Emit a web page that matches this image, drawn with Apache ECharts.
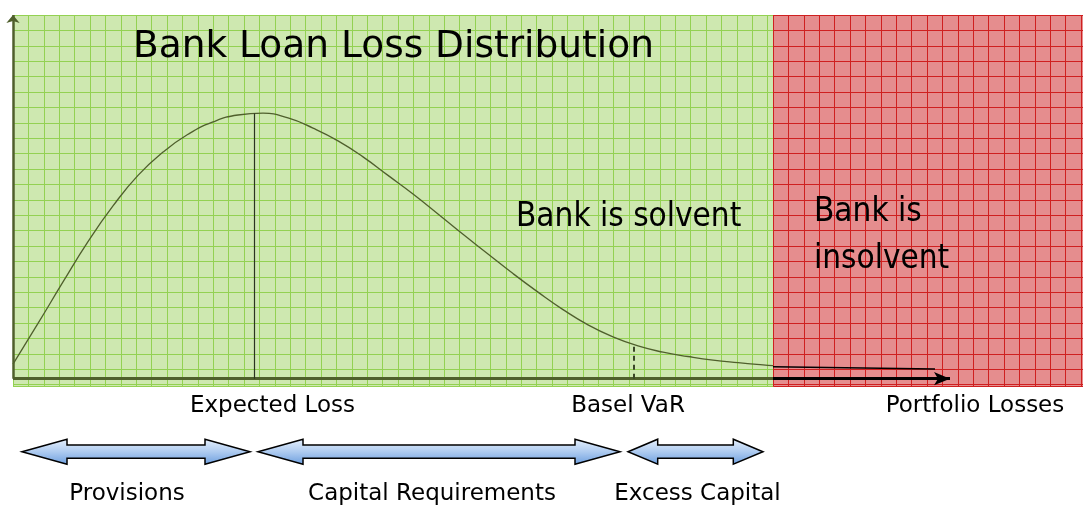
<!DOCTYPE html>
<html><head><meta charset="utf-8">
<script src="https://cdn.jsdelivr.net/npm/echarts@6/dist/echarts.min.js"></script>
<style>html,body{margin:0;padding:0;background:#fff}#c{width:1083px;height:512px}</style>
</head><body><div id="c"></div>
<script>
// ---- data (loss in arbitrary units, density in % of axis height) ----
const lossX   = [0, 2.5, 5, 7.5, 10, 12.5, 15, 17.5, 20, 22.5, 25, 27.5, 30, 32.5, 35, 37.5, 40, 42.5, 45, 47.5, 50, 52.5, 55, 57.5, 60, 62.5, 65, 67.5, 70, 72.5, 75, 76];
const density = [4.0, 15.2, 26.6, 37.7, 47.5, 55.9, 62.3, 67.2, 70.6, 72.5, 73.0, 71.7, 68.9, 65.4, 61.0, 55.9, 50.8, 45.3, 39.7, 34.3, 28.9, 23.8, 19.0, 14.8, 11.5, 9.0, 7.3, 6.1, 5.1, 4.4, 3.8, 3.6];
const tailX = [76.0, 92.2];
const tailY = [3.3, 2.7];
const expectedLoss = 24.1, expectedLossDensity = 72.9;
const baselVaR = 62.1, baselVaRDensity = 9.3;
const insolvencyPoint = 76.0;
const lossAxisEnd = 93.7;
const densityAxisTop = 100;
const bandNames = ['Provisions', 'Capital Requirements', 'Excess Capital'];
const bandFrom  = [0.9, 24.5, 61.5];
const bandTo    = [23.7, 60.7, 75.0];

const FONT = '"DejaVu Sans", Verdana, sans-serif';
const FONT_C = '"DejaVu Sans Condensed", "DejaVu Sans", sans-serif';
const OLIVE = '#4f5f2c';
const cellPx = 15.4;
const plotTop = 15, plotBottom = 386.7, splitX = 773, W = 1083;

const chart = echarts.init(document.getElementById('c'), null, { renderer: 'canvas' });

const hiddenAxis = { axisLine: { show: false }, axisTick: { show: false }, axisLabel: { show: false }, minorSplitLine: { show: false } };
function gridAxis(gridIndex, len, color, inverse) {
  return Object.assign({ gridIndex: gridIndex, type: 'value', min: 0, max: len, interval: cellPx, inverse: !!inverse,
    splitLine: { show: true, lineStyle: { color: color, width: 1 } } }, hiddenAxis);
}

const option = {
  animation: false,
  backgroundColor: '#fff',
  grid: [
    { left: 13, right: 0, top: plotTop, bottom: 512 - plotBottom, show: false },
    { left: 13, width: splitX - 13, top: plotTop, bottom: 512 - plotBottom, show: true, borderWidth: 0, backgroundColor: '#cee8b0' },
    { left: splitX, right: 0, top: plotTop, bottom: 512 - plotBottom, show: true, borderWidth: 0, backgroundColor: '#e58d8e' }
  ],
  xAxis: [
    { gridIndex: 0, type: 'value', min: 0, max: 107, show: false },
    gridAxis(1, splitX - 13, '#93d152'),
    gridAxis(2, W - splitX, '#cf2020')
  ],
  yAxis: [
    { gridIndex: 0, type: 'value', min: -2.2, max: densityAxisTop, show: false },
    gridAxis(1, plotBottom - plotTop, '#93d152', true),
    gridAxis(2, plotBottom - plotTop, '#cf2020', true)
  ],
  series: [
    {
      name: 'Loss distribution', type: 'line', xAxisIndex: 0, yAxisIndex: 0,
      data: lossX.map((x, i) => [x, density[i]]),
      smooth: 0.5, showSymbol: false, clip: false, z: 3,
      lineStyle: { color: OLIVE, width: 1.3 },
      markLine: {
        silent: true, symbol: ['none', 'none'], label: { show: false },
        data: [
          [{ coord: [0, 0], lineStyle: { color: OLIVE, width: 3, type: 'solid' } }, { coord: [insolvencyPoint, 0] }],
          [{ coord: [insolvencyPoint, 0], lineStyle: { color: '#000', width: 3, type: 'solid' } },
           { coord: [lossAxisEnd, 0], symbol: 'arrow', symbolSize: [10, 16] }],
          [{ coord: [0, 0], lineStyle: { color: OLIVE, width: 2.5, type: 'solid' } },
           { coord: [0, densityAxisTop], symbol: 'arrow', symbolSize: [10, 8] }],
          [{ coord: [expectedLoss, 0], lineStyle: { color: '#2b3320', width: 1.2, type: 'solid' } }, { coord: [expectedLoss, expectedLossDensity] }],
          [{ coord: [baselVaR, 0], lineStyle: { color: '#3a4628', width: 2, type: [5, 4] } }, { coord: [baselVaR, baselVaRDensity] }]
        ]
      }
    },
    {
      name: 'Tail', type: 'line', xAxisIndex: 0, yAxisIndex: 0,
      data: tailX.map((x, i) => [x, tailY[i]]),
      showSymbol: false, clip: false, z: 3,
      lineStyle: { color: '#000', width: 1.5 }
    },
    {
      name: 'Bands', type: 'custom', xAxisIndex: 0, yAxisIndex: 0, clip: false, z: 4,
      data: bandNames.map((n, i) => [bandFrom[i], bandTo[i]]),
      encode: { x: [0, 1] },
      renderItem: function (params, api) {
        const x0 = api.coord([api.value(0), 0])[0];
        const x1 = api.coord([api.value(1), 0])[0];
        const cy = 451.7, hh = 12.5, sh = 6.6;
        const head = Math.min(45, (x1 - x0) * 0.22);
        const pts = [[x0, cy], [x0 + head, cy - hh], [x0 + head, cy - sh], [x1 - head, cy - sh], [x1 - head, cy - hh],
          [x1, cy], [x1 - head, cy + hh], [x1 - head, cy + sh], [x0 + head, cy + sh], [x0 + head, cy + hh]];
        return {
          type: 'polygon', shape: { points: pts },
          style: {
            fill: new echarts.graphic.LinearGradient(0, 0, 0, 1, [
              { offset: 0, color: '#e8f1fc' }, { offset: 0.5, color: '#aecbf0' }, { offset: 1, color: '#6c9ede' }]),
            stroke: '#000', lineWidth: 1.5
          }
        };
      }
    }
  ],
  graphic: [
    { type: 'text', z: 10, style: { text: 'Bank Loan Loss Distribution', x: 133, y: 47, font: '37.5px ' + FONT, fill: '#000', textVerticalAlign: 'middle' } },
    { type: 'text', z: 10, style: { text: 'Bank is solvent', x: 516, y: 217, font: '33px ' + FONT_C, fill: '#000', textVerticalAlign: 'middle' } },
    { type: 'text', z: 10, style: { text: 'Bank is\ninsolvent', x: 814, y: 189, font: '33px ' + FONT_C, lineHeight: 47, fill: '#000', textVerticalAlign: 'top' } },
    { type: 'text', z: 10, style: { text: 'Expected Loss', x: 272.5, y: 406, font: '23px ' + FONT, fill: '#000', textAlign: 'center', textVerticalAlign: 'middle' } },
    { type: 'text', z: 10, style: { text: 'Basel VaR', x: 628, y: 406, font: '23px ' + FONT, fill: '#000', textAlign: 'center', textVerticalAlign: 'middle' } },
    { type: 'text', z: 10, style: { text: 'Portfolio Losses', x: 975, y: 406, font: '23px ' + FONT, fill: '#000', textAlign: 'center', textVerticalAlign: 'middle' } },
    { type: 'text', z: 10, style: { text: 'Provisions', x: 127, y: 494, font: '23px ' + FONT, fill: '#000', textAlign: 'center', textVerticalAlign: 'middle' } },
    { type: 'text', z: 10, style: { text: 'Capital Requirements', x: 432, y: 494, font: '23px ' + FONT, fill: '#000', textAlign: 'center', textVerticalAlign: 'middle' } },
    { type: 'text', z: 10, style: { text: 'Excess Capital', x: 697.5, y: 494, font: '23px ' + FONT, fill: '#000', textAlign: 'center', textVerticalAlign: 'middle' } }
  ]
};
chart.setOption(option);
</script>
</body></html>
